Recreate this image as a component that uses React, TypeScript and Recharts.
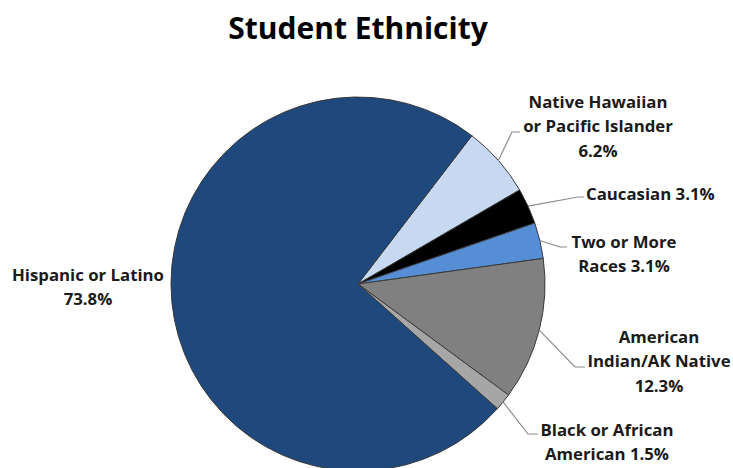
import React from "react";
import { PieChart, Pie, Cell } from "recharts";

const categories = [
  "Native Hawaiian or Pacific Islander",
  "Caucasian",
  "Two or More Races",
  "American Indian/AK Native",
  "Black or African American",
  "Hispanic or Latino",
];
const values = [6.2, 3.1, 3.1, 12.3, 1.5, 73.8];
const labelLines = [
  ["Native Hawaiian", "or Pacific Islander", "6.2%"],
  ["Caucasian 3.1%"],
  ["Two or More", "Races 3.1%"],
  ["American", "Indian/AK Native", "12.3%"],
  ["Black or African", "American 1.5%"],
  ["Hispanic or Latino", "73.8%"],
];
const colors = ["#C6D9F1", "#000000", "#558ED5", "#808080", "#A6A6A6", "#1F497D"];

// label layout, offsets relative to pie centre: bend point, line end, text centre x, first line y
const labelLayout = [
  { bx: 154, by: -152, ex: 162, tx: 240, ty: -183, anchor: "middle", line: true },
  { bx: 220, by: -87, ex: 226, tx: 228, ty: -91, anchor: "start", line: true },
  { bx: 202, by: -37, ex: 209, tx: 266, ty: -43, anchor: "middle", line: true },
  { bx: 217, by: 83, ex: 227, tx: 301, ty: 52, anchor: "middle", line: true },
  { bx: 170, by: 150, ex: 180, tx: 249, ty: 145, anchor: "middle", line: true },
  { bx: 0, by: 0, ex: 0, tx: -270, ty: -10, anchor: "middle", line: false },
];

const data = categories.map((name, i) => ({ name, value: values[i] }));

const RAD = Math.PI / 180;
const FONT = "'Open Sans', Lato, sans-serif";

const renderLabel = (props: any) => {
  const { cx, cy, midAngle, outerRadius, index } = props;
  const L = labelLayout[index];
  const sx = cx + outerRadius * Math.cos(-midAngle * RAD);
  const sy = cy + outerRadius * Math.sin(-midAngle * RAD);
  const lines = labelLines[index];
  return (
    <g key={`lbl-${index}`}>
      {L.line && (
        <polyline
          points={`${sx},${sy} ${cx + L.bx},${cy + L.by} ${cx + L.ex},${cy + L.by}`}
          fill="none"
          stroke="#8C8C8C"
          strokeWidth={1.2}
        />
      )}
      {lines.map((t, j) => (
        <text
          key={j}
          x={cx + L.tx}
          y={cy + L.ty + j * 24.5}
          textAnchor={L.anchor as any}
          dominantBaseline="central"
          fontFamily={FONT}
          fontWeight={700}
          fontSize={16.8}
          fill="#1a1a1a"
        >
          {t}
        </text>
      ))}
    </g>
  );
};

export default function App() {
  return (
    <div style={{ position: "absolute", left: 0, top: 0, width: 733, height: 468, background: "#fff" }}>
      <PieChart width={733} height={468} margin={{ top: 0, right: 0, bottom: 0, left: 0 }}>
        <text
          x={358}
          y={27}
          textAnchor="middle"
          dominantBaseline="central"
          fontFamily={FONT}
          fontWeight={700}
          fontSize={30}
          fill="#000"
        >
          Student Ethnicity
        </text>
        <Pie
          data={data}
          dataKey="value"
          nameKey="name"
          cx={358}
          cy={284}
          outerRadius={187}
          startAngle={52.5}
          endAngle={-307.5}
          stroke="#3a3a3a"
          strokeWidth={1}
          label={renderLabel}
          labelLine={false}
          isAnimationActive={false}
        >
          {data.map((d, i) => (
            <Cell key={d.name} fill={colors[i]} />
          ))}
        </Pie>
      </PieChart>
    </div>
  );
}
